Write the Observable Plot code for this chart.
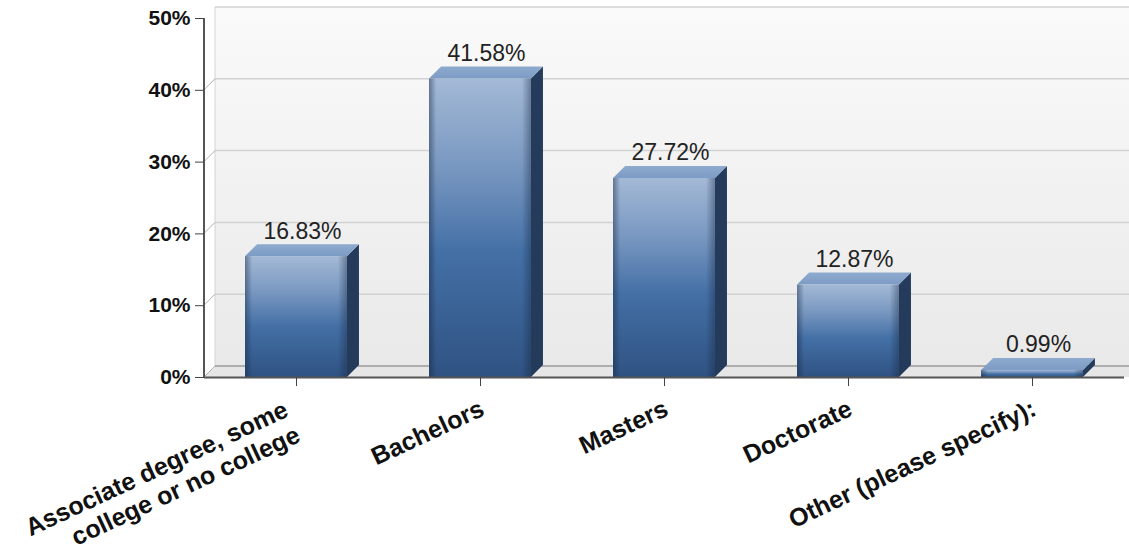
<!DOCTYPE html>
<html>
<head>
<meta charset="utf-8">
<script src="https://cdn.jsdelivr.net/npm/d3@7"></script>
<script src="https://cdn.jsdelivr.net/npm/@observablehq/plot@0.6"></script>
<style>
  html, body { margin: 0; padding: 0; background: #fff; }
  #chart svg { display: block; }
</style>
</head>
<body>
<div id="chart"></div>
<script>
const categories = [
  "Associate degree, some\ncollege or no college",
  "Bachelors",
  "Masters",
  "Doctorate",
  "Other (please specify):"
];
const values = [16.83, 41.58, 27.72, 12.87, 0.99];
const valueLabels = ["16.83%", "41.58%", "27.72%", "12.87%", "0.99%"];
const yTicks = [0, 10, 20, 30, 40, 50];

const data = categories.map((c, i) => ({category: c, value: values[i], label: valueLabels[i]}));
const singleLine = data.filter(d => !d.category.includes("\n"));
const multiLine = data.filter(d => d.category.includes("\n"));

const PAD = 0.446;
const D = 12;   // bar depth
const W = 11;   // wall depth
const svgNS = "http://www.w3.org/2000/svg";

function el(tag, attrs) {
  const e = document.createElementNS(svgNS, tag);
  for (const k in attrs) e.setAttribute(k, attrs[k]);
  return e;
}

// returns [left, width] of a band
function band(x, c) {
  let bw = typeof x.bandwidth === "function" ? x.bandwidth() : x.bandwidth;
  if (bw > 0) return [x(c), bw];
  const step = x(categories[1]) - x(categories[0]);
  bw = step * (1 - PAD);
  return [x(c) - bw / 2, bw];
}

// Back wall, floor, side diagonals and offset gridlines
function wallMark(index, scales, values, dims) {
  const g = el("g", {});
  const defs = el("defs", {});
  const lg = el("linearGradient", {id: "wallGrad", x1: 0, y1: 0, x2: 0, y2: 1});
  lg.appendChild(el("stop", {offset: "0%", "stop-color": "#fafafa"}));
  lg.appendChild(el("stop", {offset: "100%", "stop-color": "#e9e9e9"}));
  defs.appendChild(lg);
  g.appendChild(defs);
  const x0 = dims.marginLeft, x1 = dims.width;
  const yTop = scales.y(50), yBot = scales.y(0);
  g.appendChild(el("rect", {x: x0 + W, y: yTop - W, width: x1 - x0 - W, height: yBot - yTop, fill: "url(#wallGrad)"}));
  g.appendChild(el("polygon", {points: `${x0},${yBot} ${x0 + W},${yBot - W} ${x1},${yBot - W} ${x1},${yBot}`, fill: "#e6e6e6"}));
  g.appendChild(el("line", {x1: x0 + W, y1: yTop - W, x2: x0 + W, y2: yBot - W, stroke: "#d4d4d4", "stroke-width": 1}));
  for (const t of yTicks) {
    const y = scales.y(t);
    g.appendChild(el("line", {x1: x0 + W, y1: y - W, x2: x1, y2: y - W, stroke: t === 0 ? "#9a9a9a" : "#d2d2d2", "stroke-width": 1.5}));
    if (t < 50) g.appendChild(el("line", {x1: x0, y1: y, x2: x0 + W, y2: y - W, stroke: "#b0b0b0", "stroke-width": 1}));
  }
  g.appendChild(el("line", {x1: x0, y1: yTop, x2: x0, y2: yBot, stroke: "#555", "stroke-width": 2}));
  return g;
}

// 3D bars
function bars3d(index, scales, values, dims) {
  const g = el("g", {});
  const defs = el("defs", {});
  const fg = el("linearGradient", {id: "frontGrad", x1: 0, y1: 0, x2: 0, y2: 1});
  [["0%", "#a3b9d6"], ["30%", "#7897c0"], ["58%", "#4470a6"], ["100%", "#2f5282"]].forEach(([o, c]) =>
    fg.appendChild(el("stop", {offset: o, "stop-color": c})));
  const hg = el("linearGradient", {id: "edgeGrad", x1: 0, y1: 0, x2: 1, y2: 0});
  [["0%", "rgba(20,35,60,0.45)"], ["7%", "rgba(20,35,60,0)"], ["91%", "rgba(20,35,60,0)"], ["100%", "rgba(20,35,60,0.4)"]].forEach(([o, c]) =>
    hg.appendChild(el("stop", {offset: o, "stop-color": c})));
  const tg = el("linearGradient", {id: "topGrad", x1: 0, y1: 0, x2: 0, y2: 1});
  tg.appendChild(el("stop", {offset: "0%", "stop-color": "#8eabce"}));
  tg.appendChild(el("stop", {offset: "100%", "stop-color": "#7c9bc4"}));
  defs.appendChild(fg); defs.appendChild(hg); defs.appendChild(tg);
  g.appendChild(defs);
  const y0 = scales.y(0);
  for (const d of data) {
    const [xl, bw] = band(scales.x, d.category);
    const xr = xl + bw;
    const yt = scales.y(d.value);
    const h = Math.max(y0 - yt, 0.5);
    g.appendChild(el("polygon", {points: `${xr},${yt} ${xr + D},${yt - D} ${xr + D},${y0 - D} ${xr},${y0}`, fill: "#243b5c"}));
    g.appendChild(el("polygon", {points: `${xl},${yt} ${xl + D},${yt - D} ${xr + D},${yt - D} ${xr},${yt}`, fill: "url(#topGrad)"}));
    g.appendChild(el("rect", {x: xl, y: yt, width: bw, height: h, fill: "url(#frontGrad)"}));
    g.appendChild(el("rect", {x: xl, y: yt, width: bw, height: h, fill: "url(#edgeGrad)"}));
  }
  return g;
}

const xLabelStyle = {
  x: "category", y: 0, text: "category",
  rotate: -25, textAnchor: "end", lineAnchor: "top",
  fontSize: 25, fontWeight: "bold", fill: "#111", lineHeight: 1.12
};

const chart = Plot.plot({
  width: 1129,
  height: 556,
  marginLeft: 204,
  marginRight: 5,
  marginTop: 18,
  marginBottom: 179,
  style: {fontFamily: "'Liberation Sans', Arial, sans-serif", background: "transparent", overflow: "visible"},
  x: {domain: categories, paddingInner: PAD, paddingOuter: PAD / 2, label: null},
  y: {domain: [0, 50], label: null},
  marks: [
    wallMark,
    bars3d,
    Plot.text(data, {
      x: "category", y: "value", text: "label",
      dx: D / 2, dy: -D - 6, lineAnchor: "bottom",
      fontSize: 23, fill: "#222"
    }),
    Plot.axisY({
      ticks: yTicks, tickFormat: d => d + "%", tickSize: 9, tickPadding: 5,
      fontSize: 21, fontWeight: "bold", stroke: "#444", fill: "#111"
    }),
    Plot.ruleY([0], {stroke: "#555", strokeWidth: 2}),
    Plot.axisX({tickSize: 9, stroke: "#444", text: null}),
    Plot.text(singleLine, {...xLabelStyle, dx: -3, dy: 19}),
    Plot.text(multiLine, {...xLabelStyle, dx: -15, dy: 20})
  ]
});

document.getElementById("chart").appendChild(chart);
</script>
</body>
</html>
